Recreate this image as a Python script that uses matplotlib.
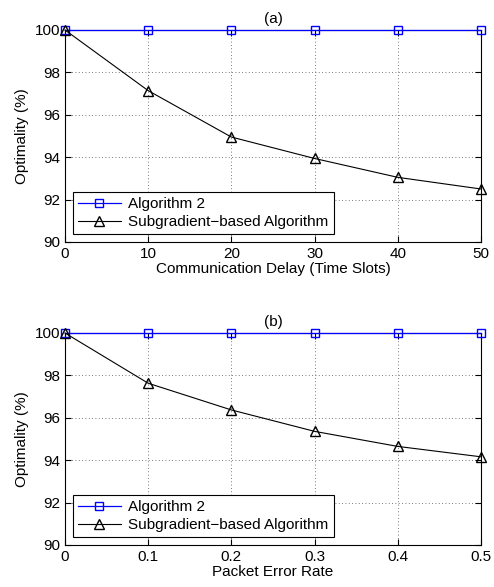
import matplotlib
matplotlib.use("Agg")
import matplotlib.pyplot as plt

plt.rcParams['font.family'] = ['Liberation Sans', 'DejaVu Sans']

# (a) задержка связи
delay = [0, 10, 20, 30, 40, 50]
alg2_a = [100, 100, 100, 100, 100, 100]
subgrad_a = [100, 97.14, 94.95, 93.94, 93.05, 92.5]

# (b) вероятность ошибки пакета
per = [0, 0.1, 0.2, 0.3, 0.4, 0.5]
alg2_b = [100, 100, 100, 100, 100, 100]
subgrad_b = [100, 97.63, 96.37, 95.36, 94.65, 94.16]

fs = 11

fig = plt.figure(figsize=(4.94, 5.87), dpi=100)
ax1 = fig.add_axes([65 / 494, 1 - 242 / 587, 416 / 494, 212 / 587])
ax2 = fig.add_axes([65 / 494, 1 - 545 / 587, 416 / 494, 212 / 587])


def draw(ax, x, a, s, xlabel, title, xticks, xticklabels):
    ax.plot(x, a, "-s", color="blue", mfc="none", ms=5.5, lw=0.9, label="Algorithm 2",
            clip_on=False, zorder=4)
    ax.plot(x, s, "-^", color="black", mfc="none", ms=7, lw=0.8,
            label="Subgradient\u2212based Algorithm", clip_on=False, zorder=5)
    ax.set_xlim(x[0], x[-1])
    ax.set_ylim(90, 100)
    ax.set_xticks(xticks)
    ax.set_xticklabels(xticklabels)
    ax.set_yticks([90, 92, 94, 96, 98, 100])
    ax.tick_params(direction="in", top=True, right=True, labelsize=fs, length=4)
    ax.grid(True, linestyle=(0, (1, 3)), color="0.3", lw=0.6)
    ax.set_xlabel(xlabel, fontsize=fs, labelpad=1)
    ax.set_ylabel("Optimality (%)", fontsize=fs, labelpad=4)
    ax.set_title(title, fontsize=fs, pad=5)
    for sp in ax.spines.values():
        sp.set_linewidth(0.8)
    leg = ax.legend(loc="lower left", fontsize=fs, fancybox=False, framealpha=1,
                    edgecolor="black", borderaxespad=0.5, handlelength=2.8,
                    borderpad=0.35, labelspacing=0.25, handletextpad=0.5)
    leg.get_frame().set_linewidth(0.8)
    leg.set_zorder(6)


draw(ax1, delay, alg2_a, subgrad_a, "Communication Delay (Time Slots)", "(a)",
     delay, ["0", "10", "20", "30", "40", "50"])
draw(ax2, per, alg2_b, subgrad_b, "Packet Error Rate", "(b)",
     per, ["0", "0.1", "0.2", "0.3", "0.4", "0.5"])

fig.savefig("out.png", dpi=100)
